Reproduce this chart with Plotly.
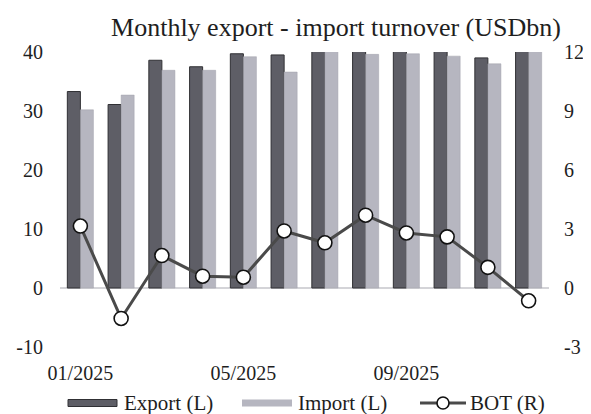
import plotly.graph_objects as go

months = ["01/2025", "02/2025", "03/2025", "04/2025", "05/2025", "06/2025",
          "07/2025", "08/2025", "09/2025", "10/2025", "11/2025", "12/2025"]
export_vals = [33.3, 31.1, 38.6, 37.5, 39.7, 39.5, 42.5, 43.3, 42.5, 41.9, 39.0, 41.0]
import_vals = [30.2, 32.7, 36.9, 36.9, 39.2, 36.6, 40.2, 39.6, 39.7, 39.3, 38.0, 41.7]
bot_vals = [3.15, -1.55, 1.65, 0.6, 0.55, 2.9, 2.3, 3.7, 2.8, 2.6, 1.05, -0.65]
x_ticks = ["01/2025", "05/2025", "09/2025"]
left_ticks = [-10, 0, 10, 20, 30, 40]
left_text = ["-10", "0", "10", "20", "30", "40"]
right_ticks = [-3, 0, 3, 6, 9, 12]
right_text = ["-3", "0", "3", "6", "9", "12"]

FONT = "Liberation Serif"
TXT = "#1e1e1e"
EXP_C = "#5e5e66"
IMP_C = "#b6b6c0"
LINE_C = "#4a4a4a"

fig = go.Figure()
fig.add_trace(go.Bar(x=months, y=export_vals, name="Export (L)",
                     marker=dict(color=EXP_C, line=dict(color="#303034", width=1)),
                     yaxis="y", showlegend=False))
fig.add_trace(go.Bar(x=months, y=import_vals, name="Import (L)",
                     marker=dict(color=IMP_C, line=dict(color="#a0a0aa", width=0.5)),
                     yaxis="y", showlegend=False))
fig.add_trace(go.Scatter(x=months, y=bot_vals, name="BOT (R)", yaxis="y2",
                         mode="lines+markers",
                         line=dict(color=LINE_C, width=3),
                         marker=dict(size=14, color="white", line=dict(color="#111", width=1.6)),
                         showlegend=False))

OFF = 8  # page body margin
W, H = 591 - OFF, 414 - OFF
L, T = 60 - OFF, 52 - OFF
R = W - (549 - OFF)
B = H - (347 - OFF)
pw, ph = W - L - R, H - T - B

def px(x):
    return (x - OFF - L) / pw

def py(y):
    return (H - B - (y - OFF)) / ph

shapes = []
annotations = []
ly = 403
LF = 21
shapes.append(dict(type="rect", xref="paper", yref="paper", x0=px(68), x1=px(117),
                   y0=py(ly + 3.5), y1=py(ly - 3.5), fillcolor=EXP_C, line=dict(color="#303034", width=1)))
annotations.append(dict(xref="paper", yref="paper", x=px(122), y=py(ly), text="Export (L)",
                        showarrow=False, xanchor="left", yanchor="middle",
                        font=dict(family=FONT, size=LF, color=TXT)))
shapes.append(dict(type="rect", xref="paper", yref="paper", x0=px(242), x1=px(292),
                   y0=py(ly + 3.5), y1=py(ly - 3.5), fillcolor=IMP_C, line=dict(width=0)))
annotations.append(dict(xref="paper", yref="paper", x=px(296), y=py(ly), text="Import (L)",
                        showarrow=False, xanchor="left", yanchor="middle",
                        font=dict(family=FONT, size=LF, color=TXT)))
shapes.append(dict(type="line", xref="paper", yref="paper", x0=px(420), x1=px(466),
                   y0=py(ly), y1=py(ly), line=dict(color=LINE_C, width=3)))
shapes.append(dict(type="circle", xref="paper", yref="paper", x0=px(437), x1=px(449),
                   y0=py(ly + 6), y1=py(ly - 6), fillcolor="white", line=dict(color="#111", width=1.6)))
annotations.append(dict(xref="paper", yref="paper", x=px(468), y=py(ly), text="BOT (R)",
                        showarrow=False, xanchor="left", yanchor="middle",
                        font=dict(family=FONT, size=LF, color=TXT)))

fig.update_layout(
    width=W, height=H,
    margin=dict(l=L, r=R, t=T, b=B, autoexpand=False),
    paper_bgcolor="white", plot_bgcolor="white",
    barmode="group", bargap=0.36, bargroupgap=0,
    font=dict(family=FONT, size=20, color=TXT),
    title=dict(text="Monthly export - import turnover (USDbn)", x=px(336), xref="paper",
               xanchor="center", y=1 - (27 - OFF) / H, yanchor="middle",
               font=dict(family=FONT, size=26, color=TXT)),
    xaxis=dict(type="category", categoryorder="array", categoryarray=months,
               range=[-0.5, len(months) - 0.5],
               tickmode="array", tickvals=x_ticks, ticktext=x_ticks,
               showgrid=False, showline=False, zeroline=False, ticks="",
               ticklabelstandoff=12, tickfont=dict(family=FONT, size=20, color=TXT)),
    yaxis=dict(range=[-10, 40], tickmode="array", tickvals=left_ticks, ticktext=left_text,
               showgrid=False, zeroline=True, zerolinecolor="#d4d4d8", zerolinewidth=2,
               showline=False, ticks="", ticklabelstandoff=16,
               tickfont=dict(family=FONT, size=20, color=TXT)),
    yaxis2=dict(range=[-3, 12], tickmode="array", tickvals=right_ticks, ticktext=right_text,
                overlaying="y", side="right", showgrid=False, zeroline=False, showline=False,
                ticks="", ticklabelstandoff=14, tickfont=dict(family=FONT, size=20, color=TXT)),
    shapes=shapes, annotations=annotations,
    showlegend=False,
)

fig.write_html("out.html")
